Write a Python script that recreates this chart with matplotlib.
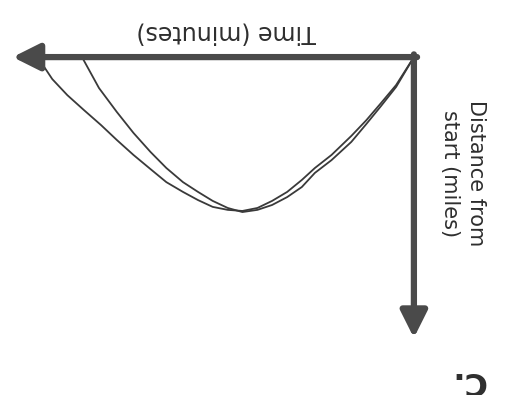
import matplotlib
matplotlib.use("Agg")
import matplotlib.pyplot as plt

# scanned sketch is shown upside down, so both axes are inverted below
time_a = [0, 0.45, 0.83, 1.2, 1.58, 2.08, 2.5, 2.83, 3.2, 3.58, 3.95, 4.33,
          4.7, 5.08, 5.45, 5.83, 6.25, 6.65, 7.08, 7.5, 7.9, 8.33, 8.75,
          9.13, 9.5]
dist_a = [0, 1.03, 1.69, 2.32, 2.9, 3.6, 4.08, 4.52, 4.96, 5.29, 5.55, 5.66,
          5.62, 5.51, 5.26, 4.96, 4.6, 4.12, 3.6, 3.05, 2.5, 1.95, 1.4,
          0.81, 0]
time_b = [0, 0.45, 0.83, 1.2, 1.58, 2.08, 2.5, 2.83, 3.2, 3.58, 3.95, 4.33,
          4.7, 5.08, 5.45, 5.83, 6.25, 6.65, 7.08, 7.5, 7.95, 8.38]
dist_b = [0, 1.1, 1.8, 2.46, 3.12, 3.79, 4.26, 4.78, 5.15, 5.44, 5.62, 5.7,
          5.55, 5.29, 4.96, 4.6, 4.08, 3.49, 2.79, 2.02, 1.14, 0]

x_label = "Time (minutes)"
y_label = "Distance from\nstart (miles)"
panel = "C."

axis_col = "#4a4a4a"
line_col = "#3a3a3a"
text_col = "#2e2e2e"

fig = plt.figure(figsize=(5.05, 3.95), dpi=100)
ax = fig.add_axes([0, 0, 1, 1])
ax.set_xlim(10.45, -2.30)
ax.set_ylim(12.43, -2.10)
ax.axis("off")

ax.plot(time_a, dist_a, color=line_col, lw=1.3)
ax.plot(time_b, dist_b, color=line_col, lw=1.3)

arrow = dict(arrowstyle="-|>,head_length=0.9,head_width=0.45",
             color=axis_col, lw=4.5, mutation_scale=18, shrinkA=0, shrinkB=0)
ax.annotate("", xy=(10.13, 0), xytext=(-0.08, 0), arrowprops=arrow)
ax.annotate("", xy=(0, 10.33), xytext=(0, -0.1), arrowprops=arrow)

ax.text(4.73, -0.92, x_label, rotation=180, ha="center", va="center",
        fontsize=17, color=text_col)
ax.text(-1.25, 1.58, y_label, rotation=270, ha="center", va="top",
        fontsize=15, color=text_col, linespacing=1.37)
ax.text(-1.36, 11.88, panel, rotation=180, ha="center", va="center",
        fontsize=23, fontweight="bold", color=text_col)

fig.savefig("out.png", dpi=100, facecolor="white")
